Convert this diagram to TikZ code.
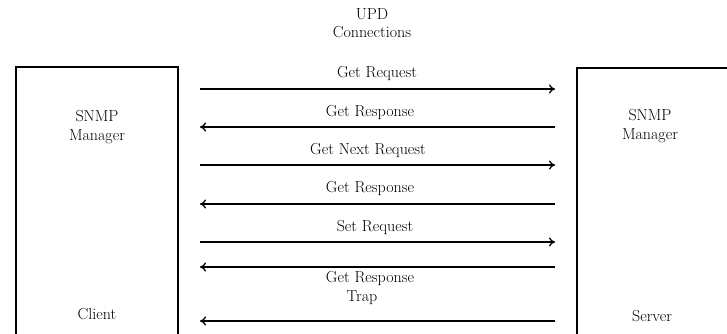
\documentclass[tikz,border=0pt]{standalone}
\usetikzlibrary{arrows.meta}

\tikzset{
  box/.style={line width=1.8pt},
  msg/.style={line width=1.3pt, -{To[length=6pt,width=9pt]}},
  lbl/.style={font=\fontsize{16}{18.5}\selectfont, inner sep=1pt}
}

\begin{document}
\begin{tikzpicture}[x=1pt, y=-1pt]
\useasboundingbox (0,0) rectangle (727,334);
\clip (0,0) rectangle (727,334);

% the two ends
\draw [box] (16,345) -- (16,67) -- (178,67) -- (178,345);
\draw [box] (577,345) -- (577,68) -- (740,68);

\node [lbl, align=center] (mgrl) at (97,127) {SNMP\\Manager};
\node [lbl] (client) at (97,314) {Client};
\node [lbl, align=center] (mgrr) at (650,126) {SNMP\\Manager};
\node [lbl] (server) at (652,316) {Server};

\node [lbl, align=center] (udp) at (372,23) {UPD\\Connections};

% messages
\foreach \i/\y/\ly/\lx/\a/\b/\msg in {
    1/89/73/377/l/r/Get Request,
    2/127/112/370/r/l/Get Response,
    3/165/150/368/l/r/Get Next Request,
    4/204/188/370/r/l/Get Response,
    5/242/227/375/l/r/Set Request,
    6/267/278/370/r/l/Get Response,
    7/321/298/362/r/l/Trap
  }
  {
    \coordinate (l\i) at (200,\y);
    \coordinate (r\i) at (555,\y);
    \draw [msg] (\a\i) -- (\b\i);
    \node [lbl] (t\i) at (\lx,\ly) {\msg};
  }

\end{tikzpicture}
\end{document}
